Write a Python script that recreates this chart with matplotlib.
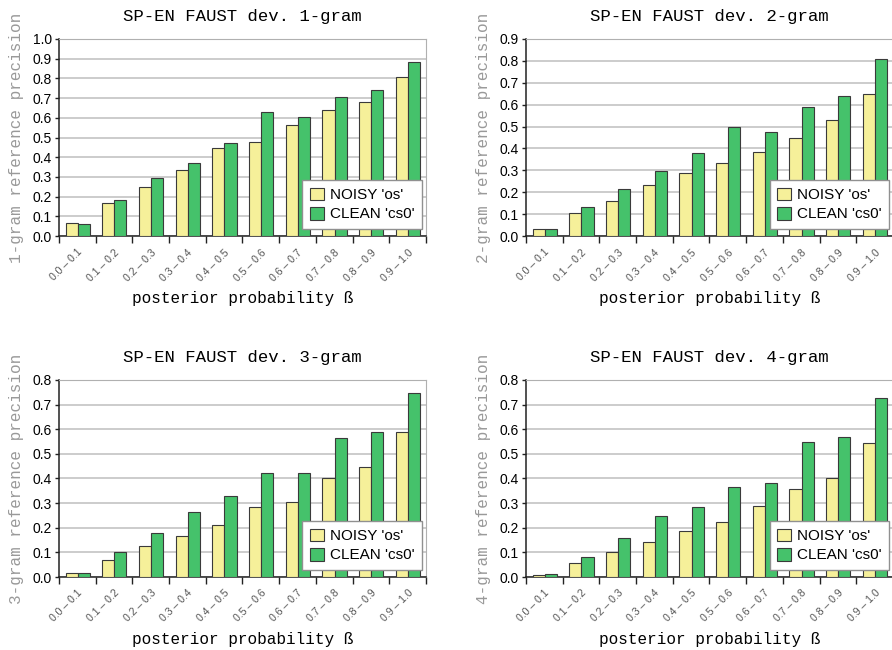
import numpy as np
import matplotlib
matplotlib.use("Agg")
import matplotlib.pyplot as plt

# binned posterior probability ranges
bins = ["0.0 – 0.1", "0.1 – 0.2", "0.2 – 0.3", "0.3 – 0.4", "0.4 – 0.5",
        "0.5 – 0.6", "0.6 – 0.7", "0.7 – 0.8", "0.8 – 0.9", "0.9 – 1.0"]

# n-gram reference precision per bin, NOISY 'os' vs CLEAN 'cs0'
noisy_1 = [0.068, 0.169, 0.251, 0.334, 0.446, 0.476, 0.564, 0.639, 0.681, 0.808]
clean_1 = [0.063, 0.183, 0.297, 0.373, 0.473, 0.627, 0.603, 0.705, 0.741, 0.885]
noisy_2 = [0.030, 0.105, 0.159, 0.232, 0.290, 0.334, 0.386, 0.450, 0.528, 0.648]
clean_2 = [0.034, 0.133, 0.217, 0.299, 0.377, 0.499, 0.477, 0.589, 0.641, 0.810]
noisy_3 = [0.015, 0.070, 0.127, 0.165, 0.213, 0.283, 0.306, 0.404, 0.446, 0.588]
clean_3 = [0.018, 0.100, 0.178, 0.263, 0.328, 0.423, 0.422, 0.564, 0.587, 0.748]
noisy_4 = [0.007, 0.056, 0.102, 0.141, 0.186, 0.222, 0.287, 0.358, 0.400, 0.544]
clean_4 = [0.011, 0.081, 0.160, 0.248, 0.286, 0.366, 0.382, 0.549, 0.568, 0.728]

panels = [
    (1, noisy_1, clean_1, 1.0),
    (2, noisy_2, clean_2, 0.9),
    (3, noisy_3, clean_3, 0.8),
    (4, noisy_4, clean_4, 0.8),
]

YELLOW = "#f6f09a"
GREEN = "#45c26b"
EDGE = "#3a3a3a"
GRID = "#c4c4c4"
MONO = "Liberation Mono"
SANS = "Liberation Sans"

fig = plt.figure(figsize=(8.92, 6.5), dpi=100)

# axes rectangles in figure fractions
lefts = [0.0661, 0.5897]
bottoms = [0.6369, 0.1123]
w, h = 0.4114, 0.3031

for k, (n, noisy, clean, ymax) in enumerate(panels):
    ax = fig.add_axes([lefts[k % 2], bottoms[k // 2], w, h])
    x = np.arange(len(bins)) + 0.51
    bw = 0.33
    ax.bar(x - bw / 2, noisy, bw, color=YELLOW, edgecolor=EDGE, linewidth=0.8,
           label="NOISY 'os'", zorder=3)
    ax.bar(x + bw / 2, clean, bw, color=GREEN, edgecolor=EDGE, linewidth=0.8,
           label="CLEAN 'cs0'", zorder=3)

    ax.set_xlim(0, len(bins))
    ax.set_ylim(0, ymax)
    ax.set_yticks(np.arange(0, ymax + 0.001, 0.1))
    ax.set_yticklabels(["%.1f" % v for v in np.arange(0, ymax + 0.001, 0.1)],
                       fontfamily=SANS, fontsize=10)
    ax.yaxis.grid(True, color=GRID, linewidth=1.2, zorder=0)
    ax.set_axisbelow(True)

    # boundary ticks on the x axis, labels at bin centres
    ax.set_xticks(np.arange(len(bins) + 1))
    ax.set_xticklabels([])
    ax.set_xticks(np.arange(len(bins)) + 0.5, minor=True)
    ax.set_xticklabels(bins, minor=True, rotation=45, ha="right",
                       rotation_mode="anchor", fontfamily=SANS, fontsize=7.6,
                       color="#555555")
    ax.tick_params(axis="x", which="major", length=5, width=1, color="#222222")
    ax.tick_params(axis="x", which="minor", length=0, pad=8)
    ax.tick_params(axis="y", length=3, width=1, color="#222222", pad=2)

    for side in ["top", "right"]:
        ax.spines[side].set_color("#b0b0b0")
    for side in ["left", "bottom"]:
        ax.spines[side].set_color("#222222")
        ax.spines[side].set_linewidth(1.1)

    ax.set_title("SP-EN FAUST dev. %d-gram" % n, fontfamily=MONO, fontsize=12.5,
                 pad=13)
    ax.set_xlabel("posterior probability ß", fontfamily=MONO, fontsize=11.5)
    ax.xaxis.set_label_coords(0.5, -0.28)
    ax.set_ylabel("%d-gram reference precision" % n, fontfamily=MONO,
                  fontsize=11.5, color="#999999", labelpad=6)

    leg = ax.legend(loc="lower right", bbox_to_anchor=(0.99, 0.035),
                    prop={"family": SANS, "size": 11}, frameon=True,
                    fancybox=False, framealpha=1, edgecolor="#909090",
                    handlelength=0.9, handleheight=0.9, handletextpad=0.4,
                    borderpad=0.5, labelspacing=0.3, borderaxespad=0)
    leg.get_frame().set_linewidth(1.0)

fig.savefig("out.png", dpi=100)
